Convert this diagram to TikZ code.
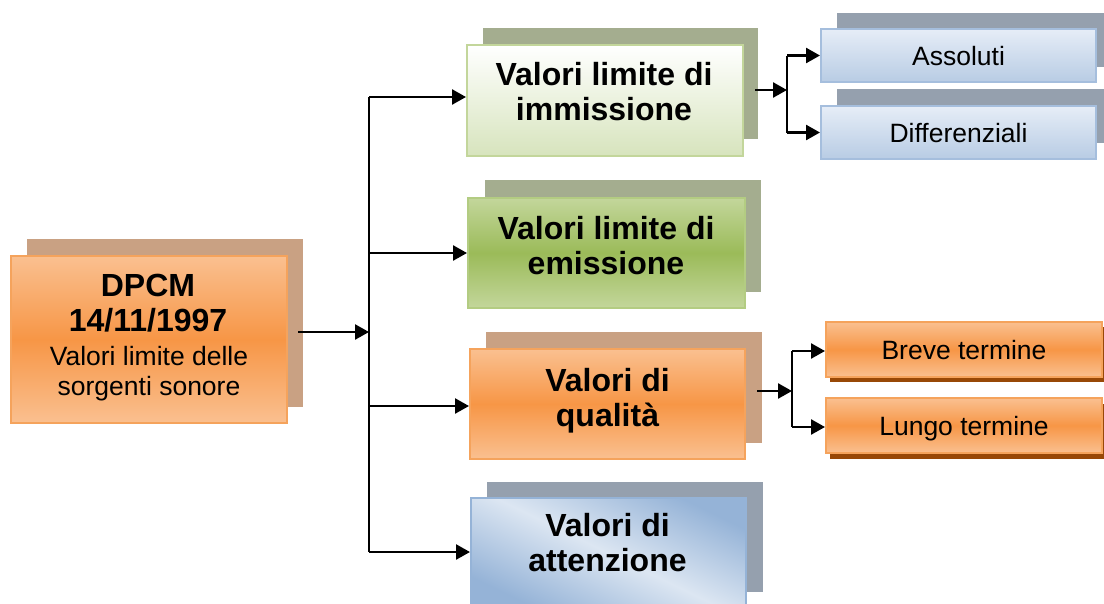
\documentclass[tikz,border=0pt]{standalone}
\usepackage{fontspec}
\setmainfont{Liberation Sans}
\usetikzlibrary{arrows.meta,calc}
\definecolor{orgmid}{HTML}{F79646}
\definecolor{orglt}{HTML}{FAC090}
\definecolor{orgbd}{HTML}{F5A35C}
\definecolor{tanshadow}{HTML}{C9A183}
\definecolor{grnshadow}{HTML}{A4AD8F}
\definecolor{grnlt}{HTML}{D7E4BD}
\definecolor{grnbd}{HTML}{C3D69B}
\definecolor{grnbdd}{HTML}{B3CC82}
\definecolor{grnmid}{HTML}{9BBB59}
\definecolor{blushadow}{HTML}{95A0AE}
\definecolor{blumid}{HTML}{95B3D7}
\definecolor{blult}{HTML}{DCE6F2}
\definecolor{blutop}{HTML}{E6EDF7}
\definecolor{blubot}{HTML}{B8CCE4}
\definecolor{blubd}{HTML}{A5BEDD}
\definecolor{brownshadow}{HTML}{984807}
\begin{document}
\begin{tikzpicture}[x=1pt,y=-1pt,
  box/.style={draw, line width=2pt, inner sep=0pt, rectangle},
  big/.style={box, minimum width=275pt, minimum height=110pt},
  smallbox/.style={box, minimum width=275pt, minimum height=53pt,
    font=\fontsize{26.5}{30}\selectfont, text height=19pt, text depth=0pt},
  orangefill/.style={top color=orglt, bottom color=orglt, middle color=orgmid, draw=orgbd},
  btxt/.style={align=center, inner sep=0pt, anchor=north, font=\fontsize{32}{35}\selectfont\bfseries},
  rtxt/.style={align=center, inner sep=0pt, anchor=north, font=\fontsize{26.5}{30}\selectfont},
  arr/.style={line width=2.5pt, -{Triangle[length=14pt,width=15pt]}},
  plain/.style={line width=2.5pt}
]
\useasboundingbox (0,0) rectangle (1104,603);
\fill[white] (0,0) rectangle (1104,603);

% shadows
\fill[tanshadow] (27,239) rectangle (303,407);
\fill[grnshadow] (483,28) rectangle (758,139);
\fill[grnshadow] (485,180) rectangle (761,292);
\fill[tanshadow] (486,332) rectangle (762,443);
\fill[blushadow] (487,482) rectangle (763,592);
\fill[blushadow] (837,13) rectangle (1112,67);
\fill[blushadow] (837,89) rectangle (1112,143);
\fill[brownshadow] (830,327) rectangle (1106,382);
\fill[brownshadow] (830,404) rectangle (1106,459);

% main boxes
\node[box, orangefill, minimum width=276pt, minimum height=167pt] (dpcm) at (149,339.5) {};
\node[big, top color=white, bottom color=grnlt, draw=grnbd, minimum width=276pt, minimum height=111pt] (b1) at (605,100.5) {};
\node[big, top color=grnbd, bottom color=grnbd, middle color=grnmid, draw=grnbdd, minimum width=277pt] (b2) at (606.5,253) {};
\node[big, orangefill] (b3) at (607.5,404) {};
\node[big, top color=blumid, bottom color=blumid, middle color=blult, shading angle=-26, draw=blumid] (b4) at (608.5,553) {};

% small boxes
\node[smallbox, top color=blutop, bottom color=blubot, draw=blubd] (s1) at (958.5,55.5) {Assoluti};
\node[smallbox, top color=blutop, bottom color=blubot, draw=blubd] (s2) at (958.5,132.5) {Differenziali};
\node[smallbox, orangefill, minimum width=276pt, minimum height=55pt] (s3) at (964,349.5) {Breve termine};
\node[smallbox, orangefill, minimum width=276pt, minimum height=55pt] (s4) at (964,425.5) {Lungo termine};

% texts
\node[btxt] (dt) at (148,274) {DPCM\\14/11/1997};
\node[rtxt] (ds) at (149,345.7) {Valori limite delle\\sorgenti sonore};
\node[btxt] (t1) at (604,62.5) {Valori limite di\\immissione};
\node[btxt] (t2) at (606,216.5) {Valori limite di\\emissione};
\node[btxt] (t3) at (607.5,368) {Valori di\\qualità};
\node[btxt] (t4) at (607.5,513) {Valori di\\attenzione};

% connectors
\coordinate (a0) at (298,332);
\coordinate (j0) at (369,332);
\coordinate (jt) at (369,97);
\coordinate (j2) at (369,253);
\coordinate (j3) at (369,406);
\coordinate (jb) at (369,552);
\draw[arr] (a0) -- (j0);
\draw[plain] (jt) -- (jb);
\draw[arr] (jt) -- (jt -| b1.west);
\draw[arr] (j2) -- (j2 -| b2.west);
\draw[arr] (j3) -- (j3 -| b3.west);
\draw[arr] (jb) -- (jb -| b4.west);

\coordinate (a1) at (755,90);
\coordinate (k1) at (787,90);
\coordinate (k1t) at (787,55.5);
\coordinate (k1b) at (787,132.5);
\draw[arr] (a1) -- (k1);
\draw[plain] (k1t) -- (k1b);
\draw[arr] (k1t) -- (s1.west);
\draw[arr] (k1b) -- (s2.west);

\coordinate (a3) at (757,391);
\coordinate (k3) at (792,391);
\coordinate (k3t) at (792,351);
\coordinate (k3b) at (792,427);
\draw[arr] (a3) -- (k3);
\draw[plain] (k3t) -- (k3b);
\draw[arr] (k3t) -- (k3t -| s3.west);
\draw[arr] (k3b) -- (k3b -| s4.west);
\end{tikzpicture}
\end{document}
